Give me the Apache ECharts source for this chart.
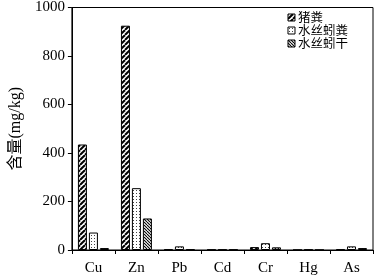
<!DOCTYPE html>
<html><head><meta charset="utf-8">
<script src="https://cdn.jsdelivr.net/npm/echarts@6/dist/echarts.min.js"></script>
<style>html,body{margin:0;padding:0;background:#fff}#c{width:377px;height:277px}</style>
</head><body><div id="c"></div>
<script>
var categories = ['Cu','Zn','Pb','Cd','Cr','Hg','As'];
var seriesNames = ['猪粪','水丝蚓粪','水丝蚓干'];
var pigManure = [435, 925, 3, 2, 12, 0.6, 3];
var wormCast = [72, 255, 15, 2, 28, 2, 15];
var wormDry = [8, 130, 3, 2, 11, 0.6, 8];
var yTicks = [0, 200, 400, 600, 800, 1000];

function stripe(size, lw, dir) {
  var c = document.createElement('canvas');
  c.width = size; c.height = size;
  var g = c.getContext('2d');
  g.fillStyle = '#fff'; g.fillRect(0,0,size,size);
  g.strokeStyle = '#000'; g.lineWidth = lw;
  for (var k = -1; k <= 1; k++) {
    g.beginPath();
    if (dir > 0) { g.moveTo(k*size, size); g.lineTo(k*size+size, 0); }
    else { g.moveTo(k*size, 0); g.lineTo(k*size+size, size); }
    g.stroke();
  }
  return {image: c, repeat: 'repeat'};
}
function dots() {
  var c = document.createElement('canvas');
  c.width = 3; c.height = 3;
  var g = c.getContext('2d');
  g.fillStyle = '#fff'; g.fillRect(0,0,3,3);
  g.fillStyle = '#444'; g.fillRect(1,1,1,1);
  return {image: c, repeat: 'repeat'};
}
var patterns = [stripe(5, 2, 1), dots(), stripe(3, 1.1, -1)];
var datas = [pigManure, wormCast, wormDry];

var chart = echarts.init(document.getElementById('c'), null, {renderer: 'canvas'});
var serif = '"Liberation Serif","Times New Roman","Noto Sans CJK SC",serif';
chart.setOption({
  animation: false,
  grid: {left: 57, right: 4, top: 7, bottom: 27, show: true, borderColor: '#000', borderWidth: 1},
  legend: {
    orient: 'vertical', right: 24, top: 6, itemWidth: 7, itemHeight: 7, itemGap: 0,
    icon: 'rect',
    itemStyle: {borderColor: '#000', borderWidth: 1},
    textStyle: {fontFamily: '"Noto Sans CJK SC",sans-serif', fontSize: 12.5, lineHeight: 13, color: '#000', padding: [0,0,0,-2]},
    data: seriesNames
  },
  xAxis: {
    type: 'category', data: categories,
    axisLine: {lineStyle: {color: '#000', width: 1}},
    axisTick: {show: true, inside: false, length: 4, lineStyle: {color: '#000'}},
    axisLabel: {fontFamily: serif, fontSize: 15, color: '#000', margin: 11}
  },
  yAxis: {
    type: 'value', min: yTicks[0], max: yTicks[yTicks.length-1], interval: 200,
    name: '含量(mg/kg)', nameLocation: 'middle', nameGap: 41,
    nameTextStyle: {fontFamily: serif, fontSize: 16, color: '#000'},
    axisLine: {show: true, lineStyle: {color: '#000'}},
    axisTick: {show: true, length: 4, lineStyle: {color: '#000'}},
    splitLine: {show: false},
    axisLabel: {fontFamily: serif, fontSize: 15, color: '#000', margin: 7, formatter: function(v){ return String(v); }}
  },
  series: seriesNames.map(function(n, i) {
    return {
      name: n, type: 'bar', data: datas[i], barWidth: 9, barGap: '22%',
      itemStyle: {color: patterns[i], borderColor: '#000', borderWidth: 1}
    };
  })
});
</script></body></html>
